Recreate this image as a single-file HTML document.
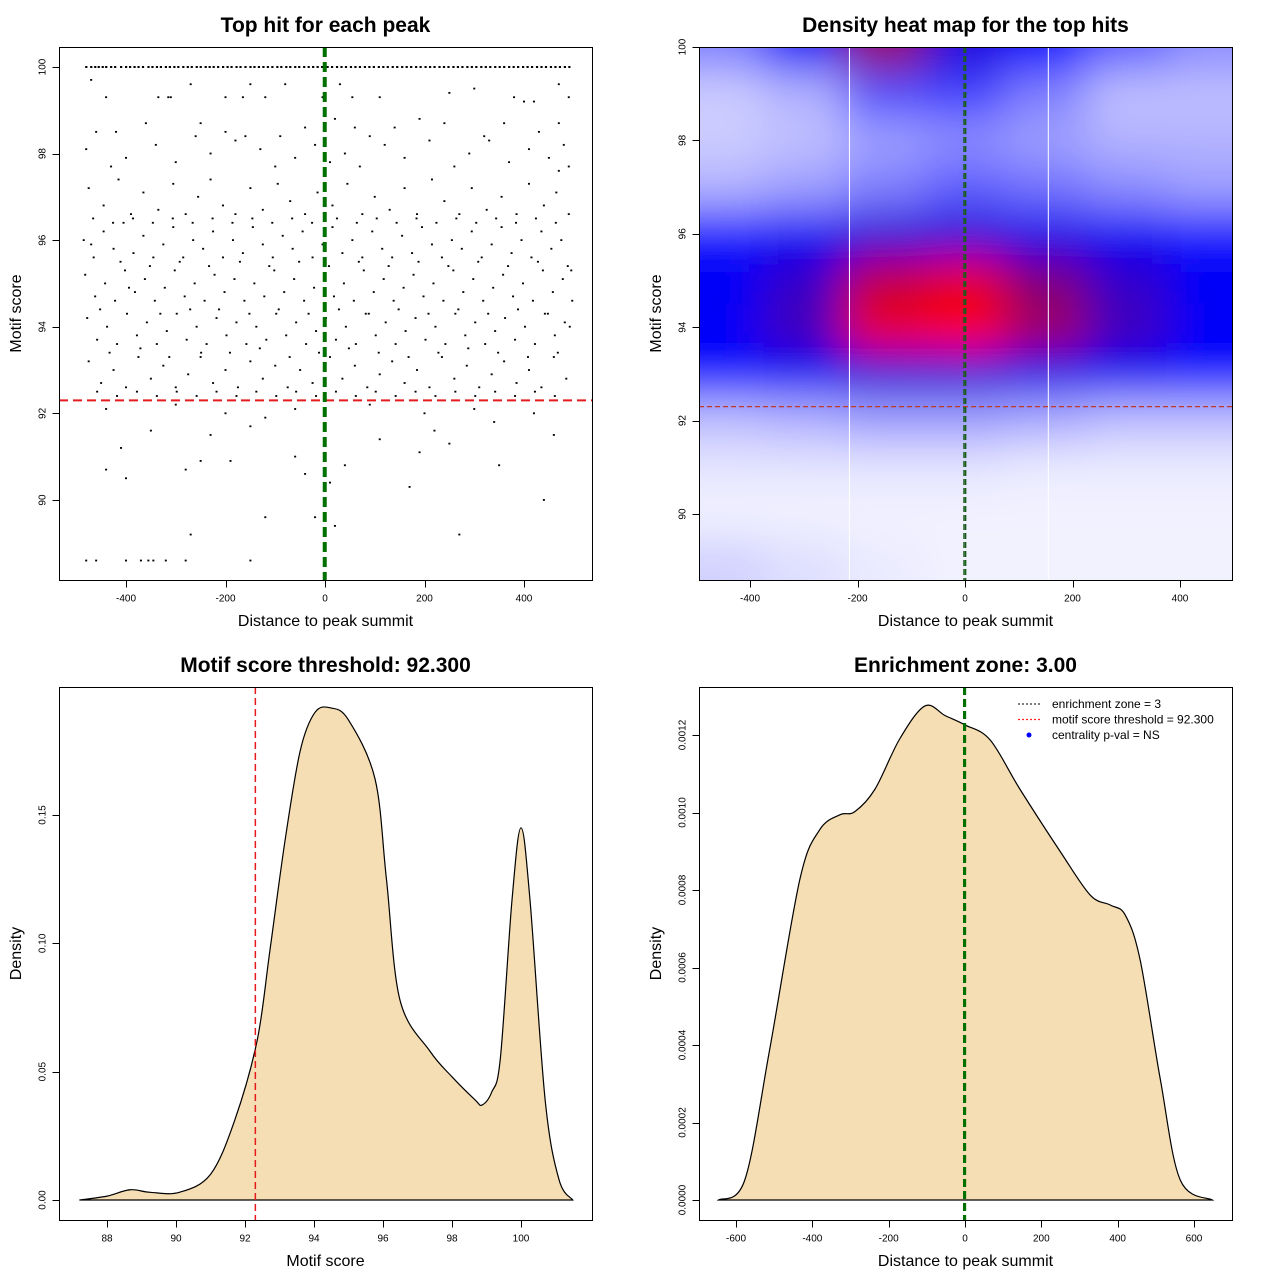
<!DOCTYPE html>
<html><head><meta charset="utf-8"><style>
body{margin:0;background:#fff;}
svg{display:block;font-family:"Liberation Sans",sans-serif;}
</style></head><body>
<svg id="root" width="1280" height="1280" viewBox="0 0 1280 1280">
<defs>
<clipPath id="hmclip"><rect x="699" y="47" width="533" height="533"/></clipPath>
<filter id="blur" x="-20%" y="-20%" width="140%" height="140%"><feGaussianBlur stdDeviation="22"/></filter>
</defs>
<g id="p1"></g>
<g id="p2"></g>
<g id="p3"></g>
<g id="p4"></g>
</svg>
<script>
// ---------- DATA ----------
const topRowX = [-480,-470,-462,-455,-447,-440,-430,-422,-410,-400,-392,-383,-375,-366,-355,-347,-338,-330,-320,-312,-303,-295,-285,-276,-268,-258,-250,-240,-232,-224,-215,-205,-196,-188,-178,-170,-160,-150,-142,-133,-124,-115,-106,-96,-88,-78,-70,-60,-52,-42,-33,-24,-15,-6,5,14,24,33,42,52,61,70,80,89,98,108,117,126,136,145,155,164,173,183,192,202,211,220,230,239,248,258,267,276,286,295,304,314,323,332,342,351,360,370,379,388,398,407,416,426,435,444,454,463,472,482,491];
const hits = [
[-470,99.7],[-310,99.3],[-150,99.6],[-80,99.6],[30,99.6],[250,99.4],[400,99.2],[420,99.2],[470,99.6],[490,99.3],[-440,99.3],[-270,99.6],[-120,99.3],[110,99.3],[300,99.5],[380,99.3],[-335,99.3],[-315,99.3],[-200,99.3],[-165,99.3],[-5,99.3],[55,99.3],[-460,98.5],[-420,98.5],[-360,98.7],[-250,98.7],[-200,98.5],[-160,98.4],[-90,98.4],[-40,98.6],[20,98.8],[60,98.6],[90,98.4],[140,98.6],[190,98.8],[240,98.7],[320,98.4],[360,98.7],[430,98.5],[470,98.7],[480,98.2],[-480,98.1],[-430,97.7],[-400,97.9],[-340,98.2],[-300,97.8],[-260,98.4],[-230,98.0],[-180,98.3],[-130,98.1],[-100,97.7],[-60,97.9],[-20,98.2],[10,97.8],[40,98.0],[70,97.7],[120,98.2],[160,97.9],[210,98.3],[260,97.7],[290,98.0],[330,98.3],[370,97.8],[410,98.1],[450,97.9],[470,97.6],[490,97.7],
[-475,97.2],[-445,96.8],[-415,97.4],[-390,96.6],[-365,97.1],[-335,96.7],[-305,97.3],[-280,96.6],[-255,97.0],[-230,97.4],[-205,96.8],[-180,96.6],[-150,97.2],[-125,96.7],[-95,97.3],[-70,96.9],[-40,96.6],[-15,97.1],[15,96.8],[45,97.3],[75,96.6],[100,97.0],[130,96.7],[160,97.2],[185,96.6],[215,97.4],[240,96.9],[270,96.6],[295,97.2],[325,96.7],[355,97.0],[385,96.6],[410,97.3],[440,96.8],[465,97.1],[490,96.6],
[-485,96.0],[-465,95.6],[-445,96.2],[-425,95.8],[-405,96.4],[-385,95.7],[-365,96.1],[-345,95.6],[-325,95.9],[-305,96.3],[-285,95.6],[-265,96.0],[-245,95.8],[-225,96.2],[-205,95.6],[-185,96.0],[-165,95.7],[-145,96.3],[-125,95.9],[-105,95.6],[-85,96.1],[-65,95.8],[-45,96.2],[-25,95.6],[-5,95.9],[15,96.3],[35,95.7],[55,96.0],[75,95.6],[95,96.2],[115,95.8],[135,95.6],[155,96.1],[175,95.7],[195,96.3],[215,95.9],[235,95.6],[255,96.0],[275,95.8],[295,96.2],[315,95.6],[335,95.9],[355,96.3],[375,95.7],[395,96.0],[415,95.6],[435,96.2],[455,95.8],[475,96.0],[495,95.3],
[-482,95.2],[-462,94.7],[-442,95.0],[-422,94.6],[-402,95.3],[-382,94.8],[-362,95.1],[-342,94.6],[-322,94.9],[-302,95.3],[-282,94.7],[-262,95.0],[-242,94.6],[-222,95.2],[-202,94.8],[-182,95.1],[-162,94.6],[-142,95.0],[-122,94.7],[-102,95.3],[-82,94.8],[-62,95.1],[-42,94.6],[-22,94.9],[-2,95.2],[18,94.7],[38,95.0],[58,94.6],[78,95.3],[98,94.8],[118,95.1],[138,94.6],[158,94.9],[178,95.2],[198,94.7],[218,95.0],[238,94.6],[258,95.3],[278,94.8],[298,95.1],[318,94.6],[338,94.9],[358,95.2],[378,94.7],[398,95.0],[418,94.6],[438,95.3],[458,94.8],[478,95.1],[497,94.6],
[-478,94.2],[-458,93.7],[-438,94.0],[-418,93.6],[-398,94.3],[-378,93.8],[-358,94.1],[-338,93.6],[-318,93.9],[-298,94.3],[-278,93.7],[-258,94.0],[-238,93.6],[-218,94.2],[-198,93.8],[-178,94.1],[-158,93.6],[-138,94.0],[-118,93.7],[-98,94.3],[-78,93.8],[-58,94.1],[-38,93.6],[-18,93.9],[2,94.2],[22,93.7],[42,94.0],[62,93.6],[82,94.3],[102,93.8],[122,94.1],[142,93.6],[162,93.9],[182,94.2],[202,93.7],[222,94.0],[242,93.6],[262,94.3],[282,93.8],[302,94.1],[322,93.6],[342,93.9],[362,94.2],[382,93.7],[402,94.0],[422,93.6],[442,94.3],[462,93.8],[482,94.1],
[-475,93.2],[-450,92.7],[-425,93.0],[-400,92.6],[-375,93.3],[-350,92.8],[-325,93.1],[-300,92.6],[-275,92.9],[-250,93.3],[-225,92.7],[-200,93.0],[-175,92.6],[-150,93.2],[-125,92.8],[-100,93.1],[-75,92.6],[-50,93.0],[-25,92.7],[10,93.3],[35,92.8],[60,93.1],[85,92.6],[110,92.9],[135,93.2],[160,92.7],[185,93.0],[210,92.6],[235,93.3],[260,92.8],[285,93.1],[310,92.6],[335,92.9],[360,93.2],[385,92.7],[410,93.0],[435,92.6],[460,93.3],[485,92.8],
[-440,92.1],[-300,92.2],[-200,92.0],[-120,91.9],[-60,92.1],[90,92.2],[200,92.0],[300,92.1],[420,92.0],[-350,91.6],[-150,91.7],[220,91.6],[340,91.8],[460,91.5],[-410,91.2],[-230,91.5],[110,91.4],[250,91.3],[-60,91.0],[190,91.1],[-440,90.7],[-280,90.7],[-190,90.9],[-40,90.6],[40,90.8],[350,90.8],[-400,90.5],[170,90.3],[440,90.0],[10,90.4],[-250,90.9],[-120,89.6],[-20,89.6],[-270,89.2],[270,89.2],[-480,88.6],[-460,88.6],[-400,88.6],[-370,88.6],[-355,88.6],[-345,88.6],[-320,88.6],[-280,88.6],[-150,88.6],[20,89.4],
[-470,95.9],[-452,94.4],[-433,93.4],[-411,95.5],[-394,94.9],[-371,93.5],[-352,95.4],[-331,94.3],[-313,93.3],[-292,95.5],[-271,94.4],[-249,93.4],[-233,95.4],[-213,94.4],[-191,93.4],[-171,95.5],[-152,94.3],[-131,93.5],[-112,95.4],[-93,94.4],[-71,93.3],[-52,95.5],[-33,94.3],[-12,93.4],[8,95.4],[28,94.4],[48,93.5],[68,95.5],[88,94.3],[108,93.4],[128,95.4],[148,94.4],[168,93.3],[188,95.5],[208,94.3],[228,93.4],[248,95.4],[268,94.4],[288,93.5],[308,95.5],[328,94.3],[348,93.4],[368,95.4],[388,94.4],[408,93.3],[428,95.5],[448,94.3],[468,93.4],[488,95.4],[492,94.0],
[-466,96.5],[-426,96.4],[-386,96.5],[-346,96.4],[-306,96.5],[-266,96.4],[-226,96.5],[-186,96.4],[-146,96.5],[-106,96.4],[-66,96.5],[-26,96.4],[24,96.5],[64,96.4],[104,96.5],[144,96.4],[184,96.5],[224,96.4],[264,96.5],[304,96.4],[344,96.5],[384,96.4],[424,96.5],[464,96.4],
[-458,92.5],[-418,92.4],[-378,92.5],[-338,92.4],[-298,92.5],[-258,92.4],[-218,92.5],[-178,92.4],[-138,92.5],[-98,92.4],[-58,92.5],[-18,92.4],[22,92.5],[62,92.4],[102,92.5],[142,92.4],[182,92.5],[222,92.4],[262,92.5],[302,92.4],[342,92.5],[382,92.4],[422,92.5],[462,92.4]
];
// heatmap density grid
const hmXs = [-450,-300,-150,0,150,300,450];
const hmYs = [100,99,98,97,96,95,94,93,92,91,90,89];
const hmDensity = [
[0.2,0.42,0.8,0.5,0.4,0.25,0.18],
[0.08,0.12,0.28,0.3,0.2,0.1,0.1],
[0.08,0.1,0.15,0.18,0.15,0.12,0.12],
[0.12,0.15,0.2,0.25,0.22,0.18,0.15],
[0.36,0.42,0.5,0.5,0.45,0.42,0.36],
[0.42,0.56,0.88,0.95,0.75,0.55,0.42],
[0.42,0.6,0.97,1.0,0.82,0.6,0.42],
[0.38,0.42,0.5,0.5,0.45,0.42,0.38],
[0.1,0.12,0.15,0.15,0.13,0.1,0.1],
[0.04,0.04,0.04,0.04,0.03,0.03,0.03],
[0.02,0.02,0.02,0.02,0.02,0.02,0.02],
[0.07,0.05,0.03,0.02,0.02,0.02,0.02]
];
// motif score density
const scoreX = [87.2,88.0,88.67,89.25,90.1,91.0,91.7,92.35,92.72,93.16,93.6,94.03,94.49,95.0,95.77,96.1,96.49,97.36,98.0,98.67,98.87,99.15,99.4,99.74,100.0,100.26,100.7,101.1,101.5];
const scoreDens = [0,0.0015,0.004,0.003,0.003,0.01,0.031,0.062,0.097,0.14,0.175,0.19,0.1917,0.187,0.164,0.125,0.078,0.058,0.048,0.039,0.037,0.042,0.055,0.117,0.145,0.117,0.039,0.008,0];
// distance density
const distX = [-646,-577,-512,-433,-381,-328,-289,-236,-171,-105,-52,0,66,144,249,328,381,420,459,512,564,648];
const distDens = [0,0.0000516,0.000387,0.000826,0.000955,0.000994,0.001002,0.00106,0.00119,0.001275,0.00125,0.001226,0.001187,0.00106,0.0009,0.000787,0.000761,0.000735,0.000619,0.00031,0.0000516,0];
const p1XTicks=[-400,-200,0,200,400], p1YTicks=[90,92,94,96,98,100];
const p3XTicks=[88,90,92,94,96,98,100], p3YTicks=[0,0.05,0.10,0.15];
const p3YLabels=["0.00","0.05","0.10","0.15"];
const p4XTicks=[-600,-400,-200,0,200,400,600], p4YTicks=[0,0.0002,0.0004,0.0006,0.0008,0.0010,0.0012];
const p4YLabels=["0.0000","0.0002","0.0004","0.0006","0.0008","0.0010","0.0012"];
const threshold=92.3, zone=3;

// ---------- HELPERS ----------
const NS="http://www.w3.org/2000/svg";
function mk(parent,tag,attrs,txt){const e=document.createElementNS(NS,tag);for(const k in attrs)e.setAttribute(k,attrs[k]);if(txt!==undefined)e.textContent=txt;parent.appendChild(e);return e;}
function lin(d0,d1,r0,r1){return v=>r0+(v-d0)*(r1-r0)/(d1-d0);}
function smoothPath(pts){let d="M"+pts[0][0]+","+pts[0][1];for(let i=0;i<pts.length-1;i++){const p0=pts[Math.max(0,i-1)],p1=pts[i],p2=pts[i+1],p3=pts[Math.min(pts.length-1,i+2)];const c1=[p1[0]+(p2[0]-p0[0])/6,p1[1]+(p2[1]-p0[1])/6],c2=[p2[0]-(p3[0]-p1[0])/6,p2[1]-(p3[1]-p1[1])/6];d+=" C"+c1.join(",")+" "+c2.join(",")+" "+p2.join(",");}return d;}
function axes(g,box,sx,sy,xt,yt,ylab,title,xtitle,ytitle,xlabs){
  const [x0,y0,x1,y1]=box;
  let e=mk(g,"rect",{x:x0+0.5,y:y0+0.5,width:x1-x0,height:y1-y0,fill:"none",stroke:"#000","stroke-width":1});
  
  
  const ax=mk(g,"g",{});
  
  
  const ay=y1+0.5;
  xt.forEach((t,i)=>{const tx=Math.round(sx(t))+0.5;mk(ax,"line",{x1:tx,x2:tx,y1:ay,y2:ay+7,stroke:"#000"});
    const l=mk(ax,"text",{x:sx(t),y:ay+21,"font-size":10,"text-anchor":"middle"},xlabs?xlabs[i]:String(t));
    
    });
  const yx=x0+0.5;
  const ayg=mk(g,"g",{});
  
  
  yt.forEach((t,i)=>{const ty=Math.round(sy(t))+0.5;mk(ayg,"line",{x1:yx-7,x2:yx,y1:ty,y2:ty,stroke:"#000"});
    const l=mk(ayg,"text",{x:yx-14,y:sy(t),"font-size":10,"text-anchor":"middle",transform:`rotate(-90 ${yx-14} ${sy(t)})`},ylab?ylab[i]:String(t));
    
    });
  const tt=mk(g,"text",{x:(x0+x1)/2,y:y0-15,"font-size":21,"font-weight":"bold","text-anchor":"middle"},title);
  
  
  const xl=mk(g,"text",{x:(x0+x1)/2,y:y1+46,"font-size":16,"text-anchor":"middle"},xtitle);
  
  
  const yl=mk(g,"text",{x:x0-38,y:(y0+y1)/2,"font-size":16,"text-anchor":"middle",transform:`rotate(-90 ${x0-38} ${(y0+y1)/2})`},ytitle);
  
  
}

// ---------- PANEL 1 ----------
(function(){
  const g=document.getElementById("p1");
  const sx=lin(0,400,325,524), sy=lin(90,100,500,67);
  const pts=mk(g,"g",{fill:"#000"});
  
  
  topRowX.forEach(x=>{const r=mk(pts,"rect",{x:sx(x)-1,y:sy(100)-1,width:2.2,height:2});
    
    });
  hits.forEach(h=>{const r=mk(pts,"rect",{x:sx(h[0])-1,y:sy(h[1])-1,width:2,height:1.8});
    
    });
  let e=mk(g,"line",{x1:59,x2:592,y1:sy(threshold),y2:sy(threshold),stroke:"#e41a1c","stroke-width":2,"stroke-dasharray":"9,5"});
  
  
  [0,zone].forEach(v=>{const l=mk(g,"line",{x1:sx(v)-1,x2:sx(v)-1,y1:47,y2:580,stroke:"#007000","stroke-width":2.5,"stroke-dasharray":"10,5"});
    
    });
  axes(g,[59,47,592,580],sx,sy,p1XTicks,p1YTicks,null,"Top hit for each peak","Distance to peak summit","Motif score");
})();

// ---------- PANEL 2 ----------
(function(){
  const g=document.getElementById("p2");
  const sx=lin(0,400,965,1180), sy=lin(90,100,514,47);
  function col(t){
    let r,gg,b;
    if(t<0.4){const u=t/0.4;r=255*(1-u);gg=255*(1-u);b=255;}
    else if(t<0.7){const u=(t-0.4)/0.3;r=100*u;gg=0;b=255-105*u;}
    else {const u=Math.min(1,(t-0.7)/0.3);r=100+155*u;gg=0;b=150-150*u;}
    return `rgb(${r|0},${gg|0},${b|0})`;
  }
  const clip=mk(g,"g",{"clip-path":"url(#hmclip)"});
  mk(clip,"rect",{x:699,y:47,width:533,height:533,fill:"#fff"});
  const cells=mk(clip,"g",{filter:"url(#blur)"});
  
  
  const cw=Math.abs(sx(150)-sx(0)), ch=Math.abs(sy(1)-sy(0));
  hmYs.forEach((yv,i)=>hmXs.forEach((xv,j)=>{
    let x=sx(xv)-cw/2, w=cw, y=sy(yv)-ch/2, h=ch;
    if(j===0){x-=120;w+=120;} if(j===hmXs.length-1){w+=120;}
    if(i===0){y-=120;h+=120;} if(i===hmYs.length-1){h+=120;}
    const r=mk(cells,"rect",{x:x,y:y,width:w+0.5,height:h+0.5,fill:col(hmDensity[i][j])});
    
    
  }));
  [-215,155].forEach(v=>{const l=mk(g,"line",{x1:sx(v),x2:sx(v),y1:47,y2:580,stroke:"#fff","stroke-width":1});
    
    });
  let e=mk(g,"line",{x1:699,x2:1232,y1:sy(threshold),y2:sy(threshold),stroke:"#c0392b","stroke-width":1.2,"stroke-dasharray":"5,3"});
  
  
  [0,zone].forEach(v=>{const l=mk(g,"line",{x1:sx(v)-1,x2:sx(v)-1,y1:47,y2:580,stroke:"#1a5c1a","stroke-width":1.5,"stroke-dasharray":"6,3"});
    
    });
  axes(g,[699,47,1232,580],sx,sy,p1XTicks,p1YTicks,null,"Density heat map for the top hits","Distance to peak summit","Motif score");
})();

// ---------- PANEL 3 ----------
(function(){
  const g=document.getElementById("p3");
  const sx=lin(88,100,107,521), sy=lin(0,0.15,1200,815);
  const pts=scoreX.map((x,i)=>[sx(x),sy(scoreDens[i])]);
  let e=mk(g,"path",{d:smoothPath(pts)+" Z",fill:"#f5deb3",stroke:"#000","stroke-width":1.2});
  
  
  e=mk(g,"line",{x1:sx(threshold),x2:sx(threshold),y1:687,y2:1220,stroke:"#e41a1c","stroke-width":1.5,"stroke-dasharray":"7,4"});
  
  
  axes(g,[59,687,592,1220],sx,sy,p3XTicks,p3YTicks,p3YLabels,"Motif score threshold: 92.300","Motif score","Density");
})();

// ---------- PANEL 4 ----------
(function(){
  const g=document.getElementById("p4");
  const sx=lin(0,600,965,1194), sy=lin(0,0.0012,1200,735);
  const pts=distX.map((x,i)=>[sx(x),sy(distDens[i])]);
  let e=mk(g,"path",{d:smoothPath(pts)+" Z",fill:"#f5deb3",stroke:"#000","stroke-width":1.2});
  
  
  [0,zone].forEach(v=>{const l=mk(g,"line",{x1:sx(v)-1,x2:sx(v)-1,y1:687,y2:1220,stroke:"#007000","stroke-width":2,"stroke-dasharray":"8,4"});
    
    });
  axes(g,[699,687,1232,1220],sx,sy,p4XTicks,p4YTicks,p4YLabels,"Enrichment zone: 3.00","Distance to peak summit","Density");
  const lg=mk(g,"g",{"font-size":12});
  
  
  const items=[["enrichment zone = 3","#333","line"],["motif score threshold = 92.300","#ff2020","line"],["centrality p-val = NS","#0000ff","dot"]];
  items.forEach((it,i)=>{const y=704+i*15.5;
    const ent=mk(lg,"g",{});
    
    
    if(it[2]==="line")mk(ent,"line",{x1:1018,x2:1041,y1:y,y2:y,stroke:it[1],"stroke-width":1.3,"stroke-dasharray":"2,2"});
    else mk(ent,"circle",{cx:1029,cy:y,r:2.5,fill:it[1]});
    mk(ent,"text",{x:1052,y:y+4},it[0]);});
})();
</script>
</body></html>
